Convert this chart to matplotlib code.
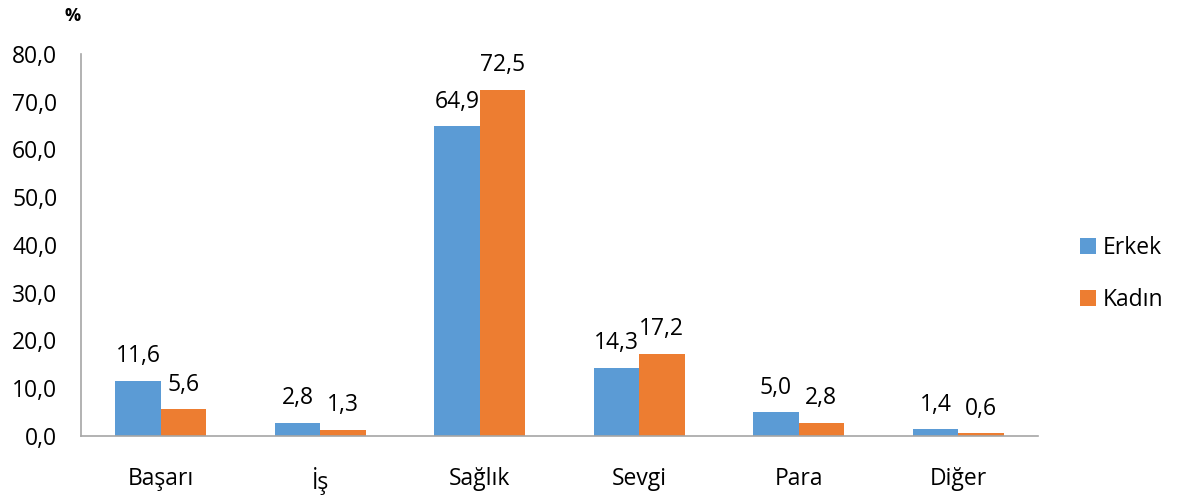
import numpy as np
import matplotlib.pyplot as plt

plt.rcParams['font.family'] = ['Open Sans', 'DejaVu Sans']

categories = ['Başarı', 'İş', 'Sağlık', 'Sevgi', 'Para', 'Diğer']
erkek = [11.6, 2.8, 64.9, 14.3, 5.0, 1.4]
kadin = [5.6, 1.3, 72.5, 17.2, 2.8, 0.6]
yticks = [0, 10, 20, 30, 40, 50, 60, 70, 80]

blue = '#5b9bd5'
orange = '#ed7d31'
fs = 16.5

fig = plt.figure(figsize=(11.78, 4.98), dpi=100)
ax = fig.add_axes([0.0688, 0.1245, 0.8122, 0.7671])

x = np.arange(len(categories))
w = 0.285
b1 = ax.bar(x - w / 2, erkek, w, color=blue, label='Erkek')
b2 = ax.bar(x + w / 2, kadin, w, color=orange, label='Kadın')

def fmt(v):
    return '{:.1f}'.format(v).replace('.', ',')

for bars, vals in ((b1, erkek), (b2, kadin)):
    for r, v in zip(bars, vals):
        ax.text(r.get_x() + r.get_width() / 2, v + 2.6, fmt(v),
                ha='center', va='bottom', fontsize=fs, color='#000000')

ax.set_xlim(-0.5, len(categories) - 0.5)
ax.set_ylim(0, 80)
ax.set_yticks(yticks)
ax.set_yticklabels([fmt(v) for v in yticks], fontsize=fs)
ax.set_xticks(x)
ax.set_xticklabels(categories, fontsize=fs)
ax.tick_params(axis='both', length=0)
ax.tick_params(axis='y', pad=17)
ax.tick_params(axis='x', pad=22)

for s in ['top', 'right']:
    ax.spines[s].set_visible(False)
for s in ['left', 'bottom']:
    ax.spines[s].set_color('#a6a6a6')
    ax.spines[s].set_linewidth(1.2)

fig.text(0.062, 0.968, '%', fontsize=13, fontweight='bold', ha='center', va='center')

fig.legend(handles=[b1, b2], loc='center left', bbox_to_anchor=(0.899, 0.45),
           frameon=False, fontsize=fs, handlelength=0.7, handleheight=0.7,
           handletextpad=0.3, labelspacing=1.25)

fig.savefig('out.png', dpi=100)
